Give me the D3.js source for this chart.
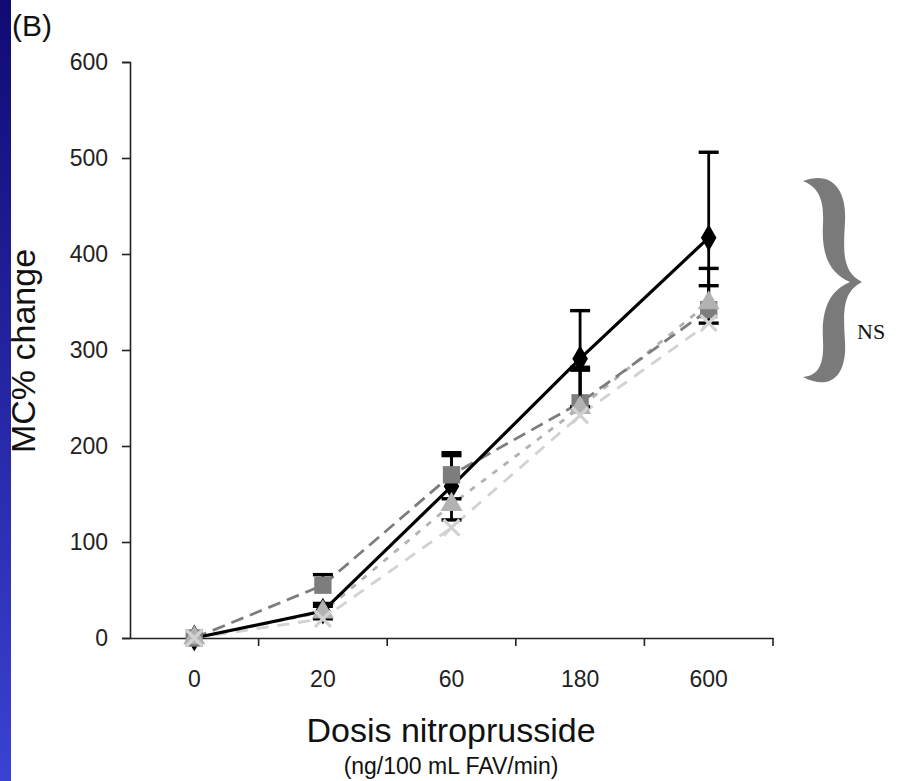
<!DOCTYPE html>
<html>
<head>
<meta charset="utf-8">
<script src="https://cdn.jsdelivr.net/npm/d3@7"></script>
<style>
  body { margin:0; background:#fff; }
  svg { display:block; font-family: "Liberation Sans", Arial, sans-serif; }
</style>
</head>
<body>
<div id="chart"></div>
<script>
// dose categories (x axis)
var doses = ["0", "20", "60", "180", "600"];
var yTicks = [0, 100, 200, 300, 400, 500, 600];

// series values, MC% change
var blackVals  = [0, 28, 158, 291, 417];
var blackErr   = [0, 8, 35, 50, 89];
var squareVals = [0, 55, 170, 245, 342];
var squareErr  = [0, 11, 20, 37, 43];
var triVals    = [0, 27, 139, 240, 349];
var triErr     = [0, 6, 6, 39, 18];
var crossVals  = [0, 20, 115, 232, 328];
var crossErr   = [0, 0, 0, 0, 0];

var W = 920, H = 781;
var mLeft = 130, mRight = 773, mTop = 62, mBottom = 638;

var svg = d3.select("#chart").append("svg")
  .attr("width", W).attr("height", H);

// blue strip at the left edge
var grad = svg.append("defs").append("linearGradient")
  .attr("id", "strip").attr("x1", 0).attr("y1", 0).attr("x2", 0).attr("y2", 1);
grad.append("stop").attr("offset", "0%").attr("stop-color", "#100a74");
grad.append("stop").attr("offset", "100%").attr("stop-color", "#3a42d2");
svg.append("rect").attr("x", 0).attr("y", 0).attr("width", 11).attr("height", H)
  .attr("fill", "url(#strip)");

var x = d3.scaleBand().domain(doses).range([mLeft, mRight]).padding(0);
var y = d3.scaleLinear().domain([0, 600]).range([mBottom, mTop]);
var cx = function(d){ return x(d) + x.bandwidth() / 2; };

// y axis
var yAxis = svg.append("g").attr("transform", "translate(" + mLeft + ",0)")
  .call(d3.axisLeft(y).tickValues(yTicks).tickSize(8).tickPadding(14));
yAxis.select(".domain").attr("stroke", "#222").attr("stroke-width", 1.6);
yAxis.selectAll(".tick line").attr("stroke", "#222").attr("stroke-width", 1.6);
yAxis.selectAll("text").attr("font-size", 23).attr("fill", "#222");

// x axis: labels centred in bands, tick marks on band edges
var xAxis = svg.append("g").attr("transform", "translate(0," + mBottom + ")")
  .call(d3.axisBottom(x).tickSize(0).tickPadding(33));
xAxis.select(".domain").attr("stroke", "#222").attr("stroke-width", 1.6);
xAxis.selectAll("text").attr("font-size", 23).attr("fill", "#222");
xAxis.selectAll(".edge").data(doses).enter().append("line")
  .attr("x1", function(d){ return x(d) + x.bandwidth(); })
  .attr("x2", function(d){ return x(d) + x.bandwidth(); })
  .attr("y1", 0).attr("y2", 8)
  .attr("stroke", "#222").attr("stroke-width", 1.6);

// titles
svg.append("text").attr("x", 12).attr("y", 36).attr("font-size", 30).attr("fill", "#111").text("(B)");
svg.append("text").attr("transform", "translate(35,351) rotate(-90)")
  .attr("text-anchor", "middle").attr("font-size", 34).attr("fill", "#111").text("MC% change");
svg.append("text").attr("x", 451).attr("y", 742).attr("text-anchor", "middle")
  .attr("font-size", 34).attr("fill", "#111").text("Dosis nitroprusside");
svg.append("text").attr("x", 451).attr("y", 774).attr("text-anchor", "middle")
  .attr("font-size", 23).attr("fill", "#111").text("(ng/100 mL FAV/min)");

var series = [
  {vals: blackVals,  err: blackErr,  color: "#000000", dash: null,   width: 3.2, sym: d3.symbolDiamond,  size: 210, both: true},
  {vals: squareVals, err: squareErr, color: "#7d7d7d", dash: "13,7", width: 2.8, sym: d3.symbolSquare,   size: 300, both: false},
  {vals: triVals,    err: triErr,    color: "#b2b2b2", dash: "6,8",  width: 2.8, sym: d3.symbolTriangle, size: 210, both: false},
  {vals: crossVals,  err: crossErr,  color: "#d2d2d2", dash: "12,9", width: 2.8, sym: null,              size: 0,   both: false}
];

var line = d3.line().x(function(d){ return cx(d.k); }).y(function(d){ return y(d.v); });
function pts(s){ return doses.map(function(k, i){ return {k: k, v: s.vals[i], e: s.err[i]}; }); }

// lines
series.slice().reverse().forEach(function(s){
  svg.append("path").datum(pts(s))
    .attr("d", line).attr("fill", "none")
    .attr("stroke", s.color).attr("stroke-width", s.width)
    .attr("stroke-dasharray", s.dash);
});

// error bars and markers
series.forEach(function(s){
  var g = svg.append("g");
  var p = pts(s).filter(function(d){ return d.e > 0; });
  g.selectAll(".bar").data(p).enter().append("line")
    .attr("x1", function(d){ return cx(d.k); }).attr("x2", function(d){ return cx(d.k); })
    .attr("y1", function(d){ return y(s.both ? d.v - d.e : d.v); })
    .attr("y2", function(d){ return y(d.v + d.e); })
    .attr("stroke", "#000").attr("stroke-width", 2.8);
  g.selectAll(".capu").data(p).enter().append("line")
    .attr("x1", function(d){ return cx(d.k) - 10; }).attr("x2", function(d){ return cx(d.k) + 10; })
    .attr("y1", function(d){ return y(d.v + d.e); }).attr("y2", function(d){ return y(d.v + d.e); })
    .attr("stroke", "#000").attr("stroke-width", 3.4);
  if (s.both) {
    g.selectAll(".capl").data(p).enter().append("line")
      .attr("x1", function(d){ return cx(d.k) - 10; }).attr("x2", function(d){ return cx(d.k) + 10; })
      .attr("y1", function(d){ return y(d.v - d.e); }).attr("y2", function(d){ return y(d.v - d.e); })
      .attr("stroke", "#000").attr("stroke-width", 3.4);
  }
  if (s.sym) {
    g.selectAll(".mk").data(pts(s)).enter().append("path")
      .attr("d", d3.symbol().type(s.sym).size(s.size))
      .attr("transform", function(d){ return "translate(" + cx(d.k) + "," + y(d.v) + ")"; })
      .attr("fill", s.color);
  } else {
    g.selectAll(".mk").data(pts(s)).enter().append("path")
      .attr("d", "M-8,-8L8,8M-8,8L8,-8")
      .attr("transform", function(d){ return "translate(" + cx(d.k) + "," + y(d.v) + ")"; })
      .attr("fill", "none").attr("stroke", s.color).attr("stroke-width", 3.2);
  }
});

// NS brace
svg.append("path")
  .attr("d", "M803,181 C832,170 847,190 845,222 C843,255 843,272 862,282 " +
             "C843,292 843,309 845,342 C847,374 832,392 803,377 " +
             "C821,376 824,360 823,340 C821,305 832,290 850,282 " +
             "C832,274 821,259 823,224 C824,204 821,188 803,181 Z")
  .attr("fill", "#7a7a7a");
svg.append("text").attr("x", 857).attr("y", 339)
  .attr("font-family", "'Liberation Serif', 'DejaVu Serif', serif")
  .attr("font-size", 22).attr("fill", "#111").text("NS");
</script>
</body>
</html>
